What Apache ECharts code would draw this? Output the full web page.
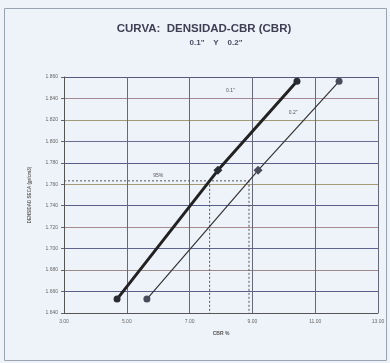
<!DOCTYPE html>
<html>
<head>
<meta charset="utf-8">
<script src="https://cdn.jsdelivr.net/npm/echarts@6/dist/echarts.min.js"></script>
<style>
  html, body { margin: 0; padding: 0; background: #eef2f9; }
  #chart { width: 390px; height: 363px; }
</style>
</head>
<body>
<div id="chart"></div>
<script>
// CBR test results: penetration CBR (%) against dry density (gr/cm3)
const cbr01 = [4.69, 7.90, 10.42];      // CBR at 0.1"
const cbr02 = [5.64, 9.18, 11.76];      // CBR at 0.2"
const densidad = [1.653, 1.773, 1.856]; // dry density per specimen
const xTicks = [3, 5, 7, 9, 11, 13];
const yTicks = [1.64, 1.66, 1.68, 1.70, 1.72, 1.74, 1.76, 1.78, 1.80, 1.82, 1.84, 1.86];
const porcentaje = 0.95;                // design criterion: 95% of max density

// density at 95% of the maximum
const dens95 = porcentaje * Math.max(...densidad);

// CBR where a curve reaches the given density (linear between specimens)
function cbrAt(xs, ys, y) {
  for (let i = 0; i < ys.length - 1; i++) {
    if ((y - ys[i]) * (y - ys[i + 1]) <= 0) {
      const t = (y - ys[i]) / (ys[i + 1] - ys[i]);
      return xs[i] + t * (xs[i + 1] - xs[i]);
    }
  }
  return null;
}
const c95a = cbrAt(cbr01, densidad, dens95);
const c95b = cbrAt(cbr02, densidad, dens95);

const gridColors = ['#555a80', '#5a5e88', '#9c8a88', '#5f6390', '#a88a8c', '#5a5e8a',
                    '#a49a78', '#585c88', '#6a6c90', '#a09a78', '#a88890', '#555a80'];

// middle specimen drawn with a diamond, ends with dots
const pts = (xs) => xs.map((x, i) => ({
  value: [x, densidad[i]],
  symbol: i === 1 ? 'diamond' : 'circle',
  symbolSize: i === 1 ? 9 : 7
}));
const dashed = { color: '#555', width: 1, type: [2, 2] };
const note = (name, coord) => ({
  symbol: 'circle', symbolSize: 0,
  label: { show: true, position: 'inside', fontSize: 5, color: '#555', formatter: p => p.name },
  data: [{ name: name, coord: coord }]
});

const chart = echarts.init(document.getElementById('chart'), null, { renderer: 'canvas' });
chart.setOption({
  backgroundColor: '#eef2f9',
  animation: false,
  textStyle: { fontFamily: 'Liberation Sans, Arial, sans-serif' },
  title: [
    { text: 'CURVA:  DENSIDAD-CBR (CBR)', left: 199, top: 18, textAlign: 'center',
      textStyle: { fontSize: 11.5, fontWeight: 'bold', color: '#3e3f52' } },
    { text: '0.1"    Y    0.2"', left: 211, top: 34, textAlign: 'center',
      textStyle: { fontSize: 8, fontWeight: 'bold', color: '#4a4b60' } }
  ],
  graphic: [
    { type: 'rect', shape: { x: 4.5, y: 8.5, width: 382, height: 352 },
      style: { fill: 'none', stroke: '#9aa4b0', lineWidth: 1 }, silent: true }
  ],
  grid: { left: 64, right: 12, top: 77, bottom: 50 },
  xAxis: {
    type: 'value', min: xTicks[0], max: xTicks[xTicks.length - 1], interval: 2,
    name: 'CBR %', nameLocation: 'middle', nameGap: 18,
    nameTextStyle: { fontSize: 5, color: '#555', fontWeight: 'bold' },
    axisLine: { lineStyle: { color: '#555', width: 1 } },
    axisTick: { show: false },
    axisLabel: { fontSize: 5, color: '#666', margin: 6, formatter: v => v.toFixed(2) },
    splitLine: { show: true, lineStyle: { color: '#666a78', width: 1 } }
  },
  yAxis: {
    type: 'value', min: yTicks[0], max: yTicks[yTicks.length - 1], interval: 0.02,
    name: 'DENSIDAD SECA (gr/cm3)', nameLocation: 'middle', nameGap: 32, nameRotate: 90,
    nameTextStyle: { fontSize: 4.5, color: '#666', fontWeight: 'bold' },
    axisLine: { show: true, lineStyle: { color: '#555', width: 1 } },
    axisTick: { show: true, length: 3, lineStyle: { color: '#666' } },
    axisLabel: { fontSize: 5, color: '#666', margin: 6, formatter: v => v.toFixed(3) },
    splitLine: { show: true, lineStyle: { color: gridColors, width: 1 } }
  },
  series: [
    {
      name: '0.1"', type: 'line', data: pts(cbr01),
      lineStyle: { color: '#222', width: 3 },
      itemStyle: { color: '#2a2c34' },
      markPoint: note('0.1"', [8.3, 1.847]),
      z: 4
    },
    {
      name: '0.2"', type: 'line', data: pts(cbr02),
      lineStyle: { color: '#333', width: 1.2 },
      itemStyle: { color: '#4a4c5a' },
      markPoint: note('0.2"', [10.3, 1.827]),
      z: 4
    },
    {
      name: '95%', type: 'line', symbol: 'none', silent: true,
      data: [[xTicks[0], dens95], [c95b, dens95]],
      lineStyle: dashed, z: 3,
      markPoint: note('95%', [6.0, dens95 + 0.005])
    },
    {
      type: 'line', symbol: 'none', silent: true,
      data: [[c95a, dens95], [c95a, yTicks[0]]], lineStyle: dashed, z: 3
    },
    {
      type: 'line', symbol: 'none', silent: true,
      data: [[c95b, dens95], [c95b, yTicks[0]]], lineStyle: dashed, z: 3
    }
  ]
});
</script>
</body>
</html>
